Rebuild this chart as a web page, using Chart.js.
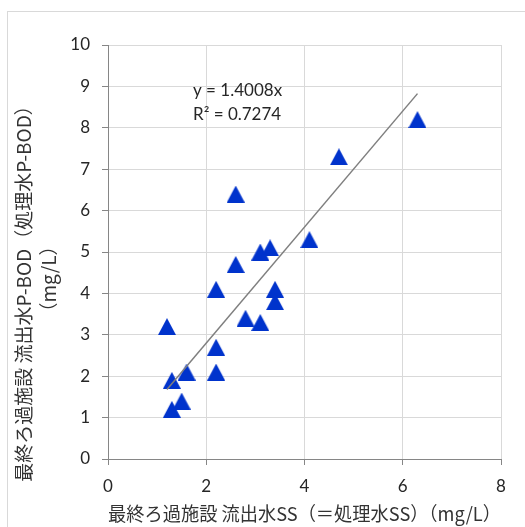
<!DOCTYPE html>
<html><head><meta charset="utf-8">
<script src="https://cdn.jsdelivr.net/npm/chart.js@4"></script>
<style>html,body{margin:0;padding:0;background:#fff;}canvas{display:block;}</style>
</head><body>
<canvas id="c" width="525" height="527"></canvas>
<script>
const xValues = [1.2, 1.3, 1.3, 1.5, 1.6, 2.2, 2.2, 2.2, 2.6, 2.6, 2.8, 3.1, 3.1, 3.3, 3.4, 3.4, 4.1, 4.7, 6.3];
const yValues = [3.2, 1.9, 1.2, 1.4, 2.1, 4.1, 2.7, 2.1, 6.4, 4.7, 3.4, 5.0, 3.3, 5.1, 4.1, 3.8, 5.3, 7.3, 8.2];
const xTicks = [0, 2, 4, 6, 8];
const yTicks = [0, 1, 2, 3, 4, 5, 6, 7, 8, 9, 10];
const xTitle = '最終ろ過施設 流出水SS（＝処理水SS）（mg/L）';
const yTitleLines = ['最終ろ過施設 流出水P-BOD（処理水P-BOD）', '（mg/L）'];
const trendLabel = ['y = 1.4008x', 'R² = 0.7274'];

// regression through origin
let sxy = 0, sxx = 0;
xValues.forEach((x, i) => { sxy += x * yValues[i]; sxx += x * x; });
const slope = sxy / sxx;
const xMin = Math.min(...xValues), xMax = Math.max(...xValues);

const points = xValues.map((x, i) => ({x: x, y: yValues[i]}));
const trend = [{x: xMin, y: slope * xMin}, {x: xMax, y: slope * xMax}];

// triangle marker
const tri = document.createElement('canvas');
tri.width = 18; tri.height = 17;
(function(){
  const g = tri.getContext('2d');
  g.fillStyle = '#0033cc';
  g.beginPath(); g.moveTo(9, 0); g.lineTo(18, 17); g.lineTo(0, 17); g.closePath(); g.fill();
})();

const decor = {
  id: 'decor',
  beforeDraw(chart) {
    const ctx = chart.ctx;
    ctx.save();
    ctx.fillStyle = '#ffffff';
    ctx.fillRect(0, 0, chart.width, chart.height);
    ctx.strokeStyle = '#d9d9d9';
    ctx.lineWidth = 1;
    ctx.strokeRect(7.5, 11.5, chart.width + 20, chart.height + 20);
    ctx.restore();
  },
  afterDraw(chart) {
    const ctx = chart.ctx;
    const xs = chart.scales.x, ys = chart.scales.y;
    ctx.save();
    ctx.fillStyle = '#333333';
    ctx.font = '19px "Noto Sans CJK JP"';
    ctx.textAlign = 'center';
    ctx.textBaseline = 'middle';
    ctx.save(); ctx.translate(24, 289); ctx.rotate(-Math.PI / 2); ctx.fillText(yTitleLines[0], 0, 0); ctx.restore();
    ctx.save(); ctx.translate(49, 279); ctx.rotate(-Math.PI / 2); ctx.fillText(yTitleLines[1], 0, 0); ctx.restore();
    // trendline label
    ctx.font = '17px Lato';
    ctx.textAlign = 'left';
    ctx.fillStyle = '#262626';
    const lx = xs.getPixelForValue(1.73);
    ctx.fillText(trendLabel[0], lx, ys.getPixelForValue(8.9));
    ctx.fillText(trendLabel[1], lx, ys.getPixelForValue(8.32));
    ctx.restore();
  }
};

new Chart(document.getElementById('c'), {
  type: 'scatter',
  data: {
    datasets: [
      {
        type: 'line', data: trend, borderColor: '#7f7f7f', borderWidth: 1.5,
        pointRadius: 0, fill: false, order: 0
      },
      {
        data: points, pointStyle: tri, pointRadius: 9, order: 1,
        backgroundColor: '#0033cc', borderColor: '#0033cc'
      }
    ]
  },
  options: {
    responsive: false,
    animation: false,
    devicePixelRatio: 1,
    layout: { padding: { left: 8, top: 45, right: 24, bottom: 0 } },
    plugins: { legend: { display: false }, tooltip: { enabled: false } },
    scales: {
      x: {
        type: 'linear', min: 0, max: 8,
        afterBuildTicks: s => { s.ticks = xTicks.map(v => ({value: v})); },
        afterFit: s => { s.height = 68; },
        grid: { color: '#d9d9d9', tickColor: '#868686', tickLength: 6, lineWidth: 1 },
        border: { color: '#868686', width: 1 },
        ticks: { color: '#262626', font: { family: 'Lato', size: 17 }, padding: 11, maxRotation: 0 },
        title: { display: true, text: xTitle, color: '#333333',
          font: { family: '"Noto Sans CJK JP"', size: 19 }, padding: { top: 4, bottom: 2 } }
      },
      y: {
        type: 'linear', min: 0, max: 10,
        afterBuildTicks: s => { s.ticks = yTicks.map(v => ({value: v})); },
        afterFit: s => { s.width = 100; },
        grid: { color: '#d9d9d9', tickColor: '#868686', tickLength: 6, lineWidth: 1 },
        border: { color: '#868686', width: 1 },
        ticks: { color: '#262626', font: { family: 'Lato', size: 17 }, padding: 12 }
      }
    }
  },
  plugins: [decor]
});
</script>
</body></html>
